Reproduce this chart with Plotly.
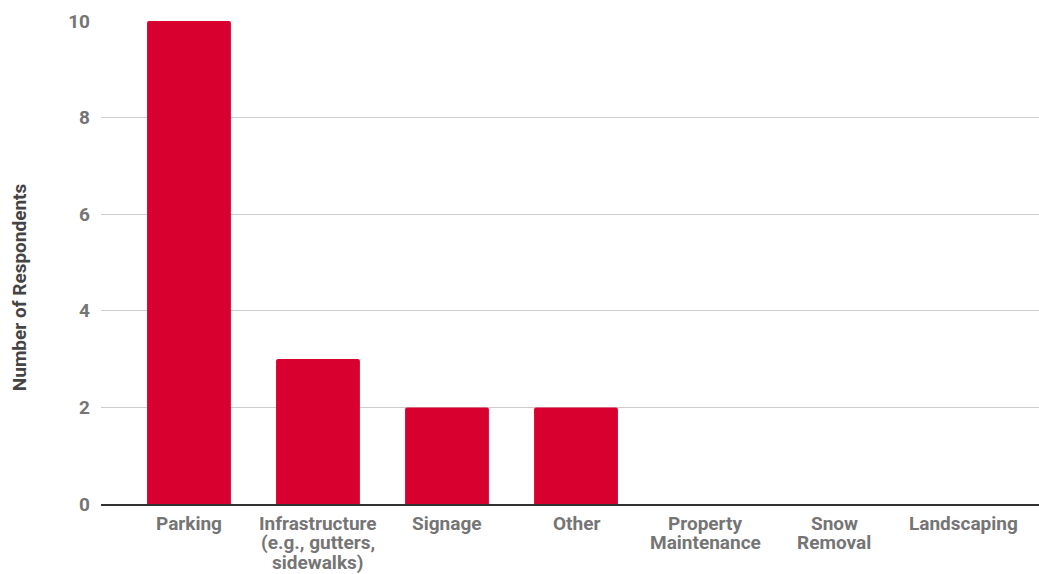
import plotly.graph_objects as go

categories = ["Parking", "Infrastructure<br>(e.g., gutters,<br>sidewalks)", "Signage", "Other",
              "Property<br>Maintenance", "Snow<br>Removal", "Landscaping"]
respondents = [10, 3, 2, 2, 0, 0, 0]
y_ticks = [0, 2, 4, 6, 8, 10]
y_title = "Number of Respondents"

fig = go.Figure(go.Bar(
    x=list(range(len(categories))), y=respondents,
    marker=dict(color="#D8002F", line=dict(width=0), cornerradius=2),
    width=0.65,
))

font_fam = "Roboto, sans-serif"
label_color = "#757575"

# category labels: one annotation per line for tight line spacing
for i, cat in enumerate(categories):
    for k, line in enumerate(cat.split("<br>")):
        fig.add_annotation(
            x=i, y=0, xref="x", yref="y", text=line, showarrow=False,
            xanchor="center", yanchor="middle", yshift=-19 - 19.5 * k,
            font=dict(family=font_fam, size=19, weight="bold", color=label_color),
        )

# y-axis title
fig.add_annotation(
    x=-0.0874, y=0.449, xref="paper", yref="paper", text=y_title, showarrow=False,
    textangle=-90, xanchor="center", yanchor="middle",
    font=dict(family=font_fam, size=19, weight="bold", color="#444444"),
)

fig.update_layout(
    width=1039, height=574,
    margin=dict(l=101, r=0, t=21, b=70),
    plot_bgcolor="white", paper_bgcolor="white",
    showlegend=False,
    font=dict(family=font_fam, color=label_color),
    xaxis=dict(
        range=[-0.682, 6.589],
        tickvals=list(range(len(categories))), showticklabels=False,
        showgrid=False, showline=True, linecolor="#333333", linewidth=1.5,
        ticks="", automargin=False,
    ),
    yaxis=dict(
        range=[0, 10], tickvals=y_ticks,
        tickfont=dict(size=19, weight="bold", color=label_color),
        showgrid=True, gridcolor="#CCCCCC", gridwidth=1,
        zeroline=False, showline=False, ticks="", ticklabelstandoff=10,
        automargin=False,
    ),
)
fig.write_html("out.html", config={"displayModeBar": False},
               post_script="document.body.style.margin='0';")
